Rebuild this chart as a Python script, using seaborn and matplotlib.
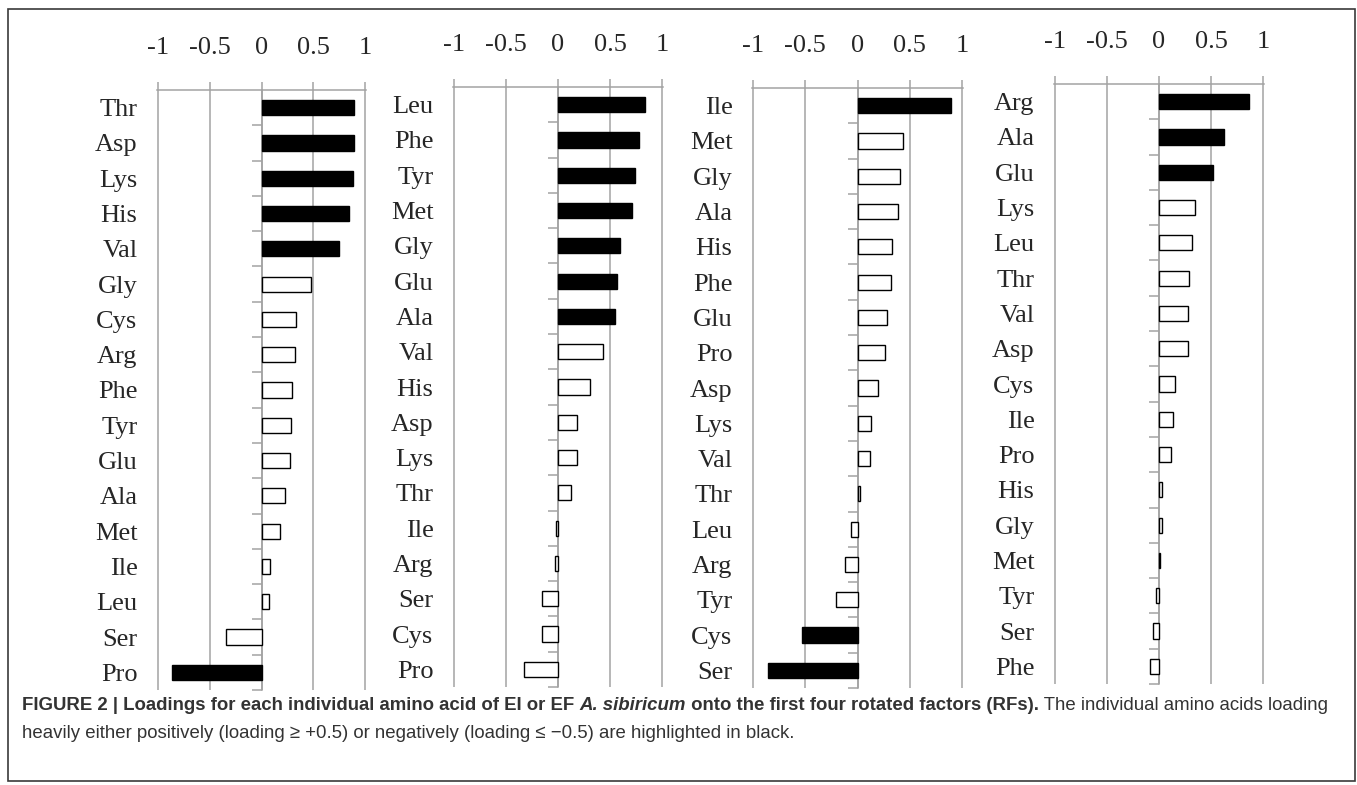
import numpy as np
import pandas as pd
import matplotlib
matplotlib.use("Agg")
import matplotlib.pyplot as plt
import seaborn as sns
from matplotlib import font_manager

# нагрузки аминокислот на четыре повёрнутых фактора (RF1..RF4)
rf1_labels = ["Thr", "Asp", "Lys", "His", "Val", "Gly", "Cys", "Arg", "Phe",
              "Tyr", "Glu", "Ala", "Met", "Ile", "Leu", "Ser", "Pro"]
rf1_values = [0.895, 0.895, 0.88, 0.84, 0.75, 0.476, 0.335, 0.32, 0.294,
              0.28, 0.27, 0.23, 0.175, 0.083, 0.07, -0.345, -0.863]

rf2_labels = ["Leu", "Phe", "Tyr", "Met", "Gly", "Glu", "Ala", "Val", "His",
              "Asp", "Lys", "Thr", "Ile", "Arg", "Ser", "Cys", "Pro"]
rf2_values = [0.83, 0.777, 0.736, 0.713, 0.59, 0.567, 0.55, 0.427, 0.309,
              0.178, 0.178, 0.12, -0.015, -0.025, -0.156, -0.156, -0.328]

rf3_labels = ["Ile", "Met", "Gly", "Ala", "His", "Phe", "Glu", "Pro", "Asp",
              "Lys", "Val", "Thr", "Leu", "Arg", "Tyr", "Cys", "Ser"]
rf3_values = [0.89, 0.437, 0.41, 0.386, 0.33, 0.32, 0.278, 0.266, 0.2,
              0.133, 0.12, 0.02, -0.063, -0.117, -0.209, -0.528, -0.858]

rf4_labels = ["Arg", "Ala", "Glu", "Lys", "Leu", "Thr", "Val", "Asp", "Cys",
              "Ile", "Pro", "His", "Gly", "Met", "Tyr", "Ser", "Phe"]
rf4_values = [0.864, 0.627, 0.519, 0.345, 0.316, 0.29, 0.278, 0.278, 0.158,
              0.133, 0.117, 0.032, 0.025, 0.013, -0.025, -0.057, -0.082]

x_ticks = [-1, -0.5, 0, 0.5, 1]
x_tick_labels = ["-1", "-0.5", "0", "0.5", "1"]
THRESHOLD = 0.5

panels = [(rf1_labels, rf1_values), (rf2_labels, rf2_values),
          (rf3_labels, rf3_values), (rf4_labels, rf4_values)]

# положение осей в пикселях: левый край, верх, ширина, высота
W, H = 1357, 785
boxes = [(157, 90, 209, 600), (453, 87, 210, 600),
         (752, 88, 211, 600), (1054, 84, 210, 600)]

sns.set_style("white")
plt.rcParams["font.family"] = ["Liberation Serif", "DejaVu Serif"]

GRID = "#a3a3a3"

fig = plt.figure(figsize=(W / 100, H / 100), dpi=100)

for (labels, values), (x0, y0, w, h) in zip(panels, boxes):
    ax = fig.add_axes([x0 / W, 1 - (y0 + h) / H, w / W, h / H])
    df = pd.DataFrame({"aa": labels, "loading": values})
    df["kind"] = np.where(df["loading"].abs() >= THRESHOLD, "strong", "weak")
    sns.barplot(data=df, x="loading", y="aa", hue="kind", order=labels,
                palette={"strong": "black", "weak": "white"}, dodge=False,
                width=0.43, saturation=1, edgecolor="black", linewidth=1,
                legend=False, ax=ax)
    ax.set_xlim(-1.006, 1.006)
    ax.set_ylim(len(labels) - 0.5, -0.5)
    ax.set_xlabel("")
    ax.set_ylabel("")
    ax.set_axisbelow(True)
    ax.grid(axis="x", color=GRID, lw=1.1)
    ax.grid(axis="y", visible=False)
    for side in ["left", "right", "bottom"]:
        ax.spines[side].set_visible(False)
    ax.spines["top"].set_color(GRID)
    ax.spines["top"].set_linewidth(1.1)

    ax.xaxis.tick_top()
    ax.set_xticks(x_ticks)
    ax.set_xticklabels(x_tick_labels)
    ax.tick_params(axis="x", direction="out", length=6, width=1.1,
                   color=GRID, pad=16, labelsize=19)
    ax.tick_params(axis="y", length=0, pad=14, labelsize=19)

    # короткие засечки между категориями на нулевой линии
    sec = ax.secondary_yaxis(0.5)
    sec.set_yticks(np.arange(0.5, len(labels), 1.0))
    sec.set_yticklabels([])
    sec.tick_params(axis="y", direction="in", length=7, width=1.1, color=GRID)
    for sp in sec.spines.values():
        sp.set_color(GRID)
        sp.set_linewidth(1.1)

# рамка вокруг всей фигуры
fig.patches.append(plt.Rectangle((8 / W, 4 / H), 1347 / W, 1 - 13 / H,
                                 transform=fig.transFigure, fill=False,
                                 edgecolor="#3a3a3a", lw=1.2))

# подпись
names = {f.name for f in font_manager.fontManager.ttflist}
cap_family = ["Liberation Sans Narrow"] if "Liberation Sans Narrow" in names else ["Liberation Sans"]
cap_family = cap_family + ["DejaVu Sans"]

line1 = [("FIGURE 2 | Loadings for each individual amino acid of EI or EF ", "bold", "normal"),
         ("A. sibiricum", "bold", "italic"),
         (" onto the first four rotated factors (RFs).", "bold", "normal"),
         (" The individual amino acids loading", "normal", "normal")]
line2 = [("heavily either positively (loading \u2265 +0.5) or negatively "
          "(loading \u2264 \u22120.5) are highlighted in black.", "normal", "normal")]

renderer = fig.canvas.get_renderer()


def draw_line(parts, x_px, y_px, size):
    x = x_px
    texts = []
    for s, weight, style in parts:
        t = fig.text(x / W, 1 - y_px / H, s, fontsize=size, fontweight=weight,
                     fontstyle=style, family=cap_family, va="center", ha="left",
                     color="#333333")
        bb = t.get_window_extent(renderer)
        x += bb.width
        texts.append(t)
    return texts, x - x_px


size = 13
texts, width = draw_line(line1, 22, 705, size)
for t in texts:
    t.remove()
size = size * 1313 / width
draw_line(line1, 22, 705, size)
draw_line(line2, 22, 733, size)

fig.savefig("out.png", dpi=100)
